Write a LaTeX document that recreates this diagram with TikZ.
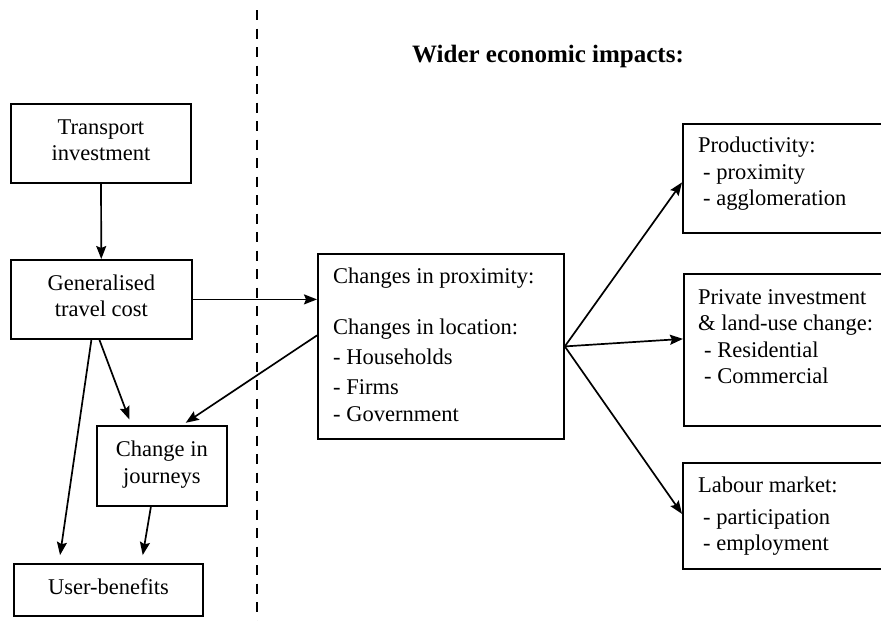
\documentclass[tikz,border=0pt]{standalone}
\usepackage{fontspec}
\setmainfont{Liberation Serif}
\newfontfamily\diagfont{Liberation Serif}
\usetikzlibrary{arrows.meta}

\begin{document}
\begin{tikzpicture}[x=1pt,y=-1pt]
\tikzset{font=\diagfont\fontsize{22.5}{26.5}\selectfont}
\tikzset{box/.style={draw, line width=1.8pt, inner sep=0pt, anchor=north west, align=center, text depth=7pt}}
\tikzset{txt/.style={inner sep=0pt, anchor=north west, align=left}}
\tikzset{link/.style={line width=1.7pt, -{Stealth[length=13pt,width=10pt,inset=2pt]}}}
\useasboundingbox (0,0) rectangle (881,621);

% divider and heading
\coordinate (divtop) at (257,10);
\coordinate (divbot) at (257,621);
\draw[line width=2pt, dash pattern=on 10pt off 8.5pt] (divtop) -- (divbot);
\node[anchor=base, inner sep=0pt, font=\diagfont\fontsize{25}{29}\selectfont\bfseries] (wider) at (548,62) {Wider economic impacts:};

% left side boxes
\node[box, minimum width=180, minimum height=79] (transport) at (10,103) {Transport\\investment};
\node[box, minimum width=181, minimum height=79] (gencost) at (10,259) {Generalised\\travel cost};
\node[box, minimum width=130, minimum height=80] (journeys) at (96,425) {Change in\\journeys};
\node[box, minimum width=189, minimum height=52] (userben) at (13,563) {User-benefits};

% middle box
\node[box, minimum width=246, minimum height=185] (changes) at (317,253) {};
\node[txt] (changestxt) at (333,268) {Changes in proximity:\\[24pt]Changes in location:\\[3.5pt]- Households\\[3.5pt]- Firms\\[1pt]- Government};

% right boxes (run off the page edge)
\node[box, minimum width=240, minimum height=109] (prod) at (682,123) {};
\node[txt] (prodtxt) at (698,137) {Productivity:\\\hspace{5pt}- proximity\\\hspace{5pt}- agglomeration};
\node[box, minimum width=240, minimum height=152] (private) at (683,273) {};
\node[txt] (privatetxt) at (698,289) {Private investment\\\&\ land-use change:\\\hspace{6pt}- Residential\\\hspace{6pt}- Commercial};
\node[box, minimum width=240, minimum height=106] (labour) at (682,462) {};
\node[txt] (labourtxt) at (698,477) {Labour market:\\[5pt]\hspace{5pt}- participation\\\hspace{5pt}- employment};

% connectors
\draw[link] (transport) -- (gencost);
\draw[link] (gencost.east) -- (gencost.east -| changes.west);
\draw[link, shorten >=4pt] ([yshift=11pt]changes.west) -- ([xshift=20.5pt]journeys.north);
\draw[link, shorten >=6pt] ([xshift=-2pt]gencost.south) -- ([xshift=-30.5pt]journeys.north);
\draw[link, shorten >=8pt] ([xshift=-10pt]gencost.south) -- ([xshift=-49.5pt]userben.north);
\draw[link, shorten >=8pt] ([xshift=-11pt]journeys.south) -- ([xshift=33pt]userben.north);
\draw[link] (changes.east) -- ([yshift=-4pt]prod.west);
\draw[link] (changes.east) -- ([yshift=11pt]private.west);
\draw[link] (changes.east) -- ([yshift=2pt]labour.west);
\end{tikzpicture}
\end{document}
